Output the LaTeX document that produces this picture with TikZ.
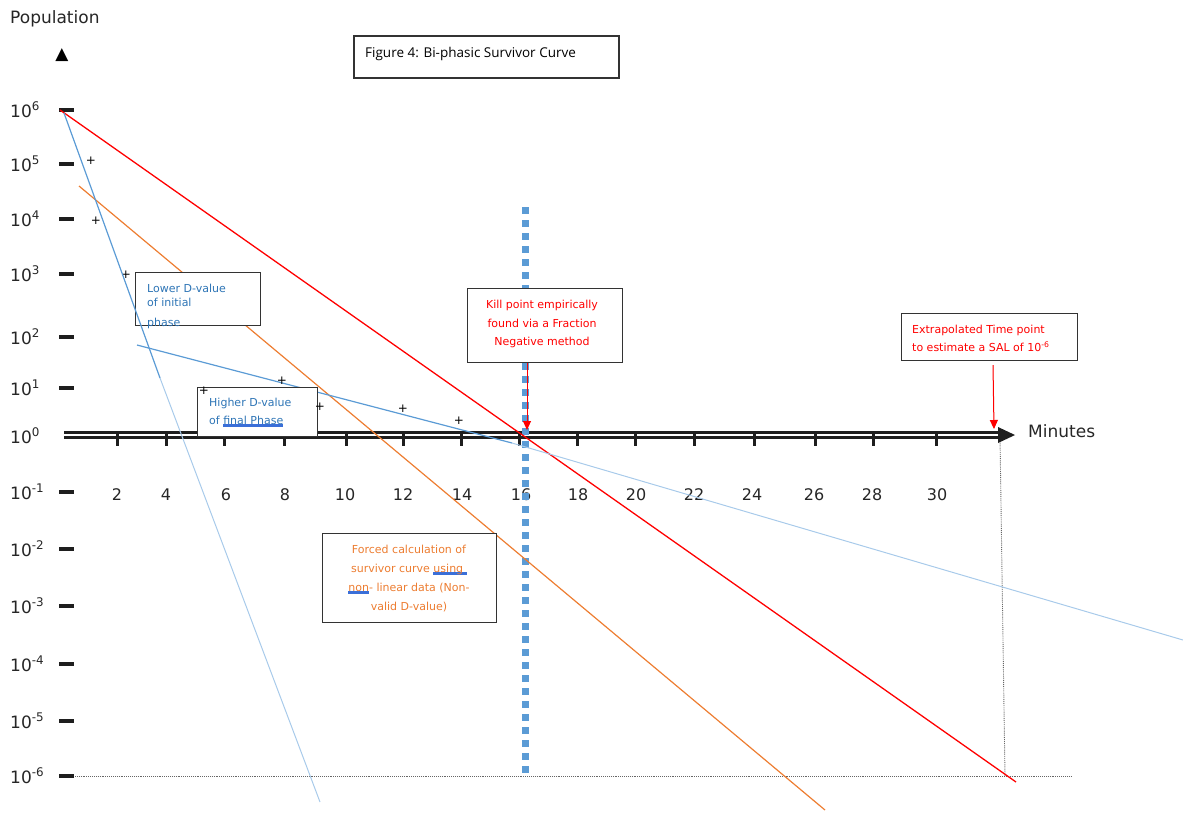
\documentclass[tikz,border=0pt]{standalone}
\usepackage{fontspec}
\setmainfont{DejaVu Sans}
\newfontfamily\titlefont{Open Sans}
\usetikzlibrary{arrows.meta, positioning, calc}
\definecolor{killred}{HTML}{FF0000}
\definecolor{phaseblue}{HTML}{5B9BD5}
\definecolor{fadeblue}{HTML}{A8CAEA}
\definecolor{noteblue}{HTML}{2E75B6}
\definecolor{forceorange}{HTML}{ED7D31}
\definecolor{spellblue}{HTML}{3A6FD8}
\definecolor{axisgray}{HTML}{1E1E1E}
\newcommand{\spellmark}[1]{\setbox0\hbox{#1}\rlap{\color{spellblue}\rule[-2pt]{\wd0}{3pt}}#1}
\tikzset{
    box/.style={rectangle, draw=black!80, line width=1.2pt, fill=white, inner sep=0pt, anchor=north west},
    boxtext/.style={inner sep=0pt, font=\fontsize{11}{18}\selectfont},
    ylabel/.style={anchor=base west, inner sep=0pt, font=\fontsize{17}{20}\selectfont, text=black!85},
    xlabel/.style={anchor=base, inner sep=0pt, font=\fontsize{16}{20}\selectfont, text=black!85},
    dashtick/.style={line width=3.5pt, draw=axisgray},
    stemtick/.style={line width=3pt, draw=axisgray},
    cross/.style={inner sep=0pt, font=\fontsize{12}{12}\selectfont},
    redline/.style={draw=killred, line width=1.3pt},
    orangeline/.style={draw=forceorange, line width=1.2pt},
    blueline/.style={draw=phaseblue, line width=1.2pt},
    fadeline/.style={draw=fadeblue, line width=1pt},
    killdots/.style={draw=phaseblue, line width=7pt, dash pattern=on 7pt off 6pt},
    guide/.style={draw=black!60, line width=0.9pt, densely dotted},
    redarrow/.style={-{Triangle[length=9pt, width=8pt]}, draw=killred, fill=killred, line width=1pt}
}
\begin{document}
\begin{tikzpicture}[x=1pt, y=-1pt]
    \useasboundingbox (0,0) rectangle (1183,812);
    % level of 10^-6 and extrapolated time
    \coordinate (floorL) at (73,776);
    \coordinate (floorR) at (1072,776);
    \coordinate (salT) at (1000,437);
    \coordinate (salB) at (1005,776);
    \draw[guide] (floorL) -- (floorR);
    \draw[guide] (salT) -- (salB);
    % time axis
    \coordinate (origin) at (64,435);
    \coordinate (xend) at (1001,435);
    \draw[line width=3pt, draw=axisgray, double=white, double distance=2pt] (origin) -- (xend);
    \fill[axisgray] (998,427) -- (1015,435) -- (998,443) -- cycle;
    \foreach \x/\lab in {117/2,166/4,224/6,284/8,346/10,403/12,461/14,519/16,577/18,635/20,694/22,754/24,815/26,873/28,936/30}
        \draw[stemtick] (\x,432) -- (\x,446);
    \foreach \x/\lab in {117/2,166/4,226/6,285/8,345/10,403/12,462/14,521/16,578/18,636/20,694/22,752/24,814/26,872/28,937/30}
        \node[xlabel] (t\lab) at (\x,500) {\lab};
    \node[anchor=base west, inner sep=0pt, font=\fontsize{17}{20}\selectfont, text=black!85] (minutes) at (1028,437) {Minutes};
    % population axis
    \node[anchor=base west, inner sep=0pt, font=\fontsize{17}{20}\selectfont, text=black!85] (population) at (10,23) {Population};
    \node[inner sep=0pt, font=\fontsize{17}{17}\selectfont] (uparrow) at (62,55) {▲};
    \foreach \e/\yy in {6/110,5/164,4/219,3/274,2/337,1/388,-1/492,-2/549,-3/606,-4/664,-5/721,-6/776}
        \draw[dashtick] (59,\yy) -- (74,\yy);
    \foreach \e/\yy in {6/110,5/164,4/219,3/274,2/337,1/388,0/436,-1/492,-2/549,-3/606,-4/664,-5/721,-6/776}
        \node[ylabel] (p\e) at (10,\yy+7) {10\textsuperscript{\e}};
    % empirical kill time
    \draw[killdots] (525,207) -- (525,773);
    % survivor lines
    \draw[orangeline] (79,186) -- (825,810);
    \draw[redline] (60,110) -- (1016,782);
    \draw[blueline] (137,345) -- (512,443);
    \draw[fadeline] (512,443) -- (1183,640);
    % notes
    \node[box, line width=1.6pt, minimum width=265pt, minimum height=42pt] (titlebox) at (353,35) {};
    \node[anchor=north west, inner sep=0pt, font=\titlefont\fontsize{13.5}{16}\selectfont] (titletxt) at (365,47) {Figure 4: Bi-phasic Survivor Curve};
    \node[box, minimum width=125pt, minimum height=53pt] (lowbox) at (135,272) {};
    \node[boxtext, anchor=north west, align=left, text=noteblue, font=\fontsize{11}{14}\selectfont] (lowtxt) at (147,284) {Lower D-value\\of initial\\[6pt]phase};
    \node[box, minimum width=120pt, minimum height=49pt] (highbox) at (197,387) {};
    \node[boxtext, anchor=north west, align=left, text=noteblue] (hightxt) at (209,398) {Higher D-value\\of \spellmark{final Phase}};
    \node[box, minimum width=155pt, minimum height=74pt] (killbox) at (467,288) {};
    \node[boxtext, anchor=north, align=center, text=killred, font=\fontsize{11}{18.5}\selectfont] (killtxt) at (542,300) {Kill point empirically\\found via a Fraction\\Negative method};
    \node[box, minimum width=176pt, minimum height=47pt] (salbox) at (901,313) {};
    \node[boxtext, anchor=north west, align=left, text=killred] (saltxt) at (912,325) {Extrapolated Time point\\to estimate a SAL of 10\textsuperscript{-6}};
    \node[box, minimum width=174pt, minimum height=89pt] (forcebox) at (322,533) {};
    \node[boxtext, anchor=north, align=center, text=forceorange, font=\fontsize{11}{19}\selectfont] (forcetxt) at (409,545) {Forced calculation of\\survivor curve \spellmark{using\,\,}\\\spellmark{non}- linear data (Non-\\valid D-value)};
    % plate counts
    \foreach \x/\yy [count=\i] in {91/161,96/221,126/275,204/391,282/381,320/407,403/409,459/421}
        \node[cross] (m\i) at (\x,\yy) {+};
    % initial phase, drawn over its note
    \draw[blueline] (64,113) -- (160,378);
    \draw[fadeline] (160,378) -- (320,802);
    % pointers to the axis
    \coordinate (killpt) at (527,430);
    \coordinate (salpt) at (994,429);
    \draw[redarrow] (killbox.south -| killpt) -- (killpt);
    \draw[redarrow] ([yshift=-4pt]salbox.south -| 993,0) -- (salpt);
\end{tikzpicture}
\end{document}
